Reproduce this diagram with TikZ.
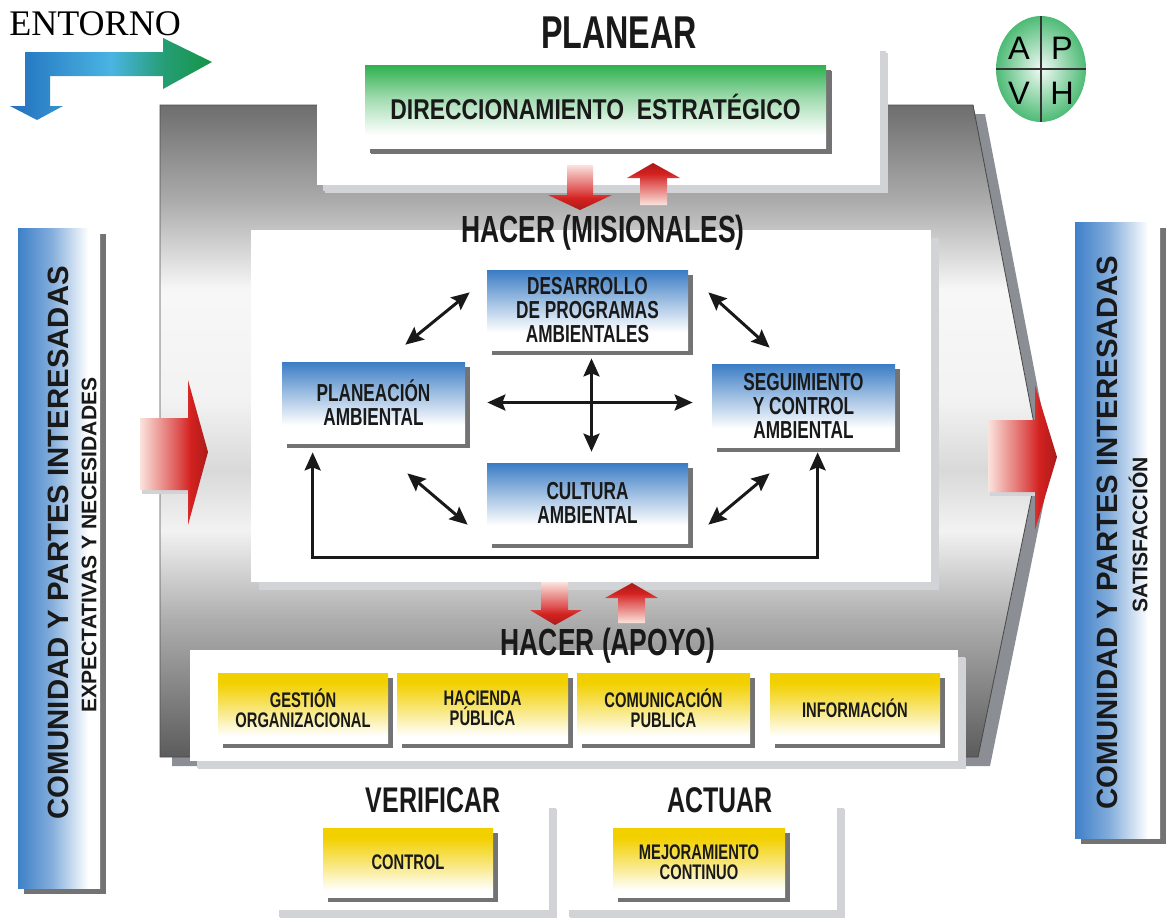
\documentclass[tikz,border=0pt]{standalone}
\usepackage{fontspec}
\setmainfont{Liberation Sans}
\newfontfamily\condfont[FakeStretch=0.7]{Liberation Sans}
\newfontfamily\narrowfont[FakeStretch=0.8]{Liberation Sans}
\newfontfamily\serifent{Liberation Serif}
\usetikzlibrary{arrows.meta}
\usetikzlibrary{calc}
\usetikzlibrary{fit}
\usetikzlibrary{shadows}
\usetikzlibrary{shapes.geometric}

\definecolor{boxblue}{HTML}{3A7CC4}
\definecolor{barblue}{HTML}{3E80C8}
\definecolor{boxgold}{HTML}{F2D000}
\definecolor{boxgreen}{HTML}{2EB04F}
\definecolor{arrowred}{HTML}{D42220}
\definecolor{arrowpink}{HTML}{FBE3DD}
\definecolor{darkshadow}{HTML}{737373}
\definecolor{lightshadow}{HTML}{D2D3D7}
\definecolor{frameshadow}{HTML}{8B8F95}
\definecolor{pdcagreen}{HTML}{4DBB75}
\definecolor{entblue}{HTML}{2270BE}
\definecolor{entcyan}{HTML}{4AB4E2}
\definecolor{entgreen}{HTML}{169447}

\pgfdeclareverticalshading{framegray}{100bp}{color(0bp)=(black!64); color(25bp)=(black!64); color(35.5bp)=(black!32); color(42.4bp)=(black!5); color(47bp)=(black!15); color(52.4bp)=(black!5); color(60.8bp)=(black!3); color(67.7bp)=(black!33); color(75bp)=(black!57); color(100bp)=(black!57)}
\pgfdeclareverticalshading{bluefade}{100bp}{color(0bp)=(white); color(36bp)=(white); color(56bp)=(boxblue!50); color(75bp)=(boxblue); color(100bp)=(boxblue)}
\pgfdeclareverticalshading{goldfade}{100bp}{color(0bp)=(white); color(30bp)=(white); color(52bp)=(boxgold!60); color(68bp)=(boxgold); color(100bp)=(boxgold)}
\pgfdeclareverticalshading{greenfade}{100bp}{color(0bp)=(white); color(33bp)=(white); color(55bp)=(boxgreen!45); color(75bp)=(boxgreen); color(100bp)=(boxgreen)}
\pgfdeclarehorizontalshading{barfade}{100bp}{color(0bp)=(barblue); color(25bp)=(barblue); color(45bp)=(barblue!65); color(68bp)=(white); color(100bp)=(white)}
\pgfdeclarehorizontalshading{redflow}{100bp}{color(0bp)=(arrowpink); color(25bp)=(arrowpink); color(52bp)=(arrowred!75); color(62bp)=(arrowred); color(75bp)=(arrowred!80!black); color(100bp)=(arrowred!80!black)}
\pgfdeclarehorizontalshading{entornoflow}{100bp}{color(0bp)=(entblue); color(25bp)=(entblue); color(50bp)=(entcyan); color(63bp)=(entgreen!70!entcyan); color(75bp)=(entgreen); color(100bp)=(entgreen)}

\tikzset{
  panel/.style={fill=white, inner sep=0pt, drop shadow={shadow xshift=0.16cm, shadow yshift=-0.16cm, fill=lightshadow, opacity=1}},
  box size/.style 2 args={minimum width=#1*0.02cm, minimum height=#2*0.02cm},
  bluebox/.style={shading=bluefade, inner sep=0pt, align=center, text=black!90,
    font=\condfont\bfseries\fontsize{14}{13.7}\selectfont,
    drop shadow={shadow xshift=0.1cm, shadow yshift=-0.1cm, fill=darkshadow, opacity=1}},
  goldbox/.style={bluebox, shading=goldfade, font=\condfont\bfseries\fontsize{12}{11.6}\selectfont},
  greenbox/.style={bluebox, shading=greenfade, font=\narrowfont\bfseries\fontsize{16.3}{16}\selectfont,
    drop shadow={shadow xshift=0.12cm, shadow yshift=-0.12cm, fill=darkshadow, opacity=1}},
  sidebar/.style={shading=barfade, inner sep=0pt,
    drop shadow={shadow xshift=0.12cm, shadow yshift=-0.12cm, fill=darkshadow, opacity=1}},
  phase/.style={inner sep=0pt, text=black!90, font=\condfont\bfseries\fontsize{21.5}{22}\selectfont},
  sidetext/.style={rotate=90, inner sep=0pt, text=black!90, font=\bfseries\fontsize{16.7}{17}\selectfont},
  sidenote/.style={rotate=90, inner sep=0pt, text=black!90, font=\bfseries\fontsize{12}{12}\selectfont},
  link/.style={<->, line width=1.7pt, black!90},
  blockarrow/.style={shading=redflow},
}

\begin{document}
\begin{tikzpicture}[x=0.02cm, y=-0.02cm, >={Stealth[length=0.36cm,width=0.32cm,inset=0.06cm]}]
  \useasboundingbox (0,0) rectangle (1168,920);

  % entorno
  \node [anchor=base west, inner sep=0pt, font=\serifent\fontsize{20.5}{20}\selectfont] (entorno) at (9,35) {ENTORNO};
  \shade [shading=entornoflow] (25,52) -- (163,52) -- (163,38) -- (212,62) -- (163,89) -- (163,76) -- (50,76)
    -- (50,106) -- (63,106) -- (37,120) -- (10,106) -- (25,106) -- cycle;

  % process frame
  \fill [frameshadow] (172,114) -- (985,114) -- (1052,462) -- (990,766) -- (172,766) -- cycle;
  \shade [shading=framegray, draw=black!70, line width=0.5pt]
    (160,105) -- (973,105) -- (1040,455) -- (978,757) -- (160,757) -- cycle;

  \node [panel, drop shadow={shadow xshift=0.12cm, shadow yshift=-0.12cm, fill=lightshadow, opacity=1}, fit={(317,45) (880,185)}] (planearpanel) {};
  \node [panel, fit={(251,230) (931,582)}] (misionpanel) {};
  \node [panel, drop shadow={shadow xshift=0.14cm, shadow yshift=-0.14cm, fill=lightshadow, opacity=1}, fit={(190,650) (958,761)}] (apoyopanel) {};
  \node [panel, drop shadow={shadow xshift=0.14cm, shadow yshift=-0.14cm, fill=lightshadow, opacity=1}, fit={(272,801) (549,910)}] (verifpanel) {};
  \node [panel, drop shadow={shadow xshift=0.14cm, shadow yshift=-0.14cm, fill=lightshadow, opacity=1}, fit={(562,801) (837,910)}] (actuarpanel) {};

  % planear
  \node [phase, font=\condfont\bfseries\fontsize{26.2}{26}\selectfont] (planear) at (619,33) {PLANEAR};
  \node [greenbox, box size={461}{83}] (direccion) at (595.5,106.5) {DIRECCIONAMIENTO~ ESTRATÉGICO};

  % hacer misionales
  \node [phase] (misionales) at (603,233) {HACER (MISIONALES)};
  \node [bluebox, box size={201}{80}] (desarrollo) at (587.5,310) {DESARROLLO\\DE PROGRAMAS\\AMBIENTALES};
  \node [bluebox, box size={183}{81}] (planeacion) at (373.5,402.5) {PLANEACIÓN\\AMBIENTAL};
  \node [bluebox, box size={183}{83}] (seguimiento) at (803.5,405.5) {SEGUIMIENTO\\Y CONTROL\\AMBIENTAL};
  \node [bluebox, box size={201}{80}] (cultura) at (587.5,503) {CULTURA\\AMBIENTAL};

  \draw [link] ($(planeacion.north east)+(-60,-17)$) -- ($(desarrollo.south west)+(-17,-58)$);
  \draw [link] ($(desarrollo.south east)+(20,-58)$) -- ($(seguimiento.north west)+(58,-16)$);
  \draw [link] ($(planeacion.south east)+(-58,30)$) -- ($(cultura.north west)+(-19,62)$);
  \draw [link] ($(cultura.north east)+(20,62)$) -- ($(seguimiento.south west)+(58,26)$);
  \draw [link] ($(planeacion.east)+(22,0)$) -- ($(planeacion.east -| seguimiento.west)+(-19,0)$);
  \draw [link] ($(desarrollo.south)+(4,8)$) -- ($(cultura.north)+(4,-11)$);
  \draw [link] ($(planeacion.south west)+(31,9)$) -- ++(0,105) -| ($(seguimiento.south west)+(106,5)$);

  % hacer apoyo
  \node [phase] (apoyo) at (608,646) {HACER (APOYO)};
  \node [goldbox, box size={170}{70}] (gestion) at (303,708) {GESTIÓN\\ORGANIZACIONAL};
  \node [goldbox, box size={171}{70}] (hacienda) at (482.5,708) {HACIENDA\\PÚBLICA};
  \node [goldbox, box size={173}{70}] (comunicacion) at (663.5,708) {COMUNICACIÓN\\PUBLICA};
  \node [goldbox, box size={170}{70}] (informacion) at (855,708) {INFORMACIÓN};

  % verificar y actuar
  \node [phase, font=\condfont\bfseries\fontsize{20.3}{20}\selectfont] (verificar) at (433,800) {VERIFICAR};
  \node [phase, font=\condfont\bfseries\fontsize{20.3}{20}\selectfont] (actuar) at (720,800) {ACTUAR};
  \node [goldbox, box size={170}{69}] (control) at (408,862.5) {CONTROL};
  \node [goldbox, box size={172}{69}] (mejora) at (699,862.5) {MEJORAMIENTO\\CONTINUO};

  % red arrows
  \shade [blockarrow, shading angle=-90] (567,165) -- (593,165) -- (593,195) -- (612,195) -- (580,210) -- (548,195) -- (567,195) -- cycle;
  \shade [blockarrow, shading angle=90] (653,163) -- (680,178) -- (667,178) -- (667,205) -- (640,205) -- (640,178) -- (627,178) -- cycle;
  \shade [blockarrow, shading angle=-90] (541,582) -- (568,582) -- (568,610) -- (582,610) -- (555,625) -- (530,610) -- (541,610) -- cycle;
  \shade [blockarrow, shading angle=90] (632,583) -- (658,598) -- (645,598) -- (645,623) -- (618,623) -- (618,598) -- (605,598) -- cycle;
  \fill [lightshadow] (142,490) rectangle (188,494);
  \shade [blockarrow] (140,418) -- (188,418) -- (188,380) -- (208,452) -- (188,525) -- (188,490) -- (140,490) -- cycle;
  \fill [lightshadow] (990,492) rectangle (1035,496);
  \shade [blockarrow] (988,420) -- (1035,420) -- (1035,385) -- (1057,457) -- (1035,530) -- (1035,492) -- (988,492) -- cycle;

  % partes interesadas
  \node [sidebar, fit={(18,228) (100,888)}] (entrada) {};
  \node [sidetext] (entradatit) at (58,543) {COMUNIDAD Y PARTES INTERESADAS};
  \node [sidenote] (entradanota) at (89,545) {EXPECTATIVAS Y NECESIDADES};
  \node [sidebar, fit={(1075,222) (1160,838)}] (salida) {};
  \node [sidetext] (salidatit) at (1107,533) {COMUNIDAD Y PARTES INTERESADAS};
  \node [sidenote] (salidanota) at (1138,535) {SATISFACCIÓN};

  % ciclo
  \node [ellipse, inner sep=0pt, minimum width=1.8cm, minimum height=2.12cm, inner color=pdcagreen!8, outer color=pdcagreen] (pdca) at (1041,69) {};
  \draw [black!80, line width=0.8pt] (pdca.north) -- (pdca.south);
  \draw [black!80, line width=0.8pt] (pdca.west) -- (pdca.east);
  \node [font=\fontsize{18.5}{18}\selectfont, inner sep=0pt] (cicloa) at ($(pdca.center)+(-22,-21)$) {A};
  \node [font=\fontsize{18.5}{18}\selectfont, inner sep=0pt] (ciclop) at ($(pdca.center)+(21,-21)$) {P};
  \node [font=\fontsize{18.5}{18}\selectfont, inner sep=0pt] (ciclov) at ($(pdca.center)+(-22,24)$) {V};
  \node [font=\fontsize{18.5}{18}\selectfont, inner sep=0pt] (cicloh) at ($(pdca.center)+(21,24)$) {H};

\end{tikzpicture}
\end{document}
